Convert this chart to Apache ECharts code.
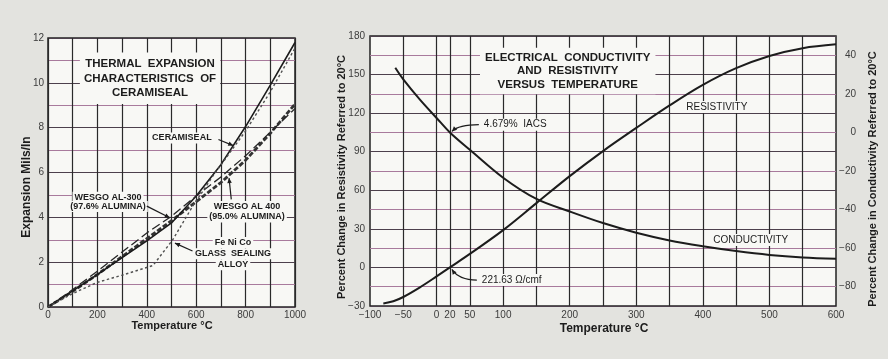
<!DOCTYPE html>
<html>
<head>
<meta charset="utf-8">
<script src="https://cdn.jsdelivr.net/npm/echarts@6/dist/echarts.min.js"></script>
<style>
  html, body { margin: 0; padding: 0; background: #e3e3df; }
  #c { width: 888px; height: 359px; }
</style>
</head>
<body>
<div id="c"></div>
<script>
// ---- Thermal expansion (mils per inch) against temperature (°C) ----
const expTemps   = [0, 100, 200, 300, 400, 500, 600, 700, 800, 900, 1000];
const ceramiseal = [0, 0.72, 1.45, 2.2, 2.95, 3.75, 4.95, 6.35, 8.05, 9.9, 11.8];
const al300      = [0, 0.78, 1.6, 2.45, 3.3, 4.05, 4.95, 5.8, 6.75, 7.8, 8.85];
const al400      = [0, 0.7, 1.45, 2.25, 3.05, 3.85, 4.7, 5.55, 6.55, 7.75, 9.05];
const feNiCoTemps = [0, 100, 200, 300, 425, 505, 586, 668, 800, 900, 1000];
const feNiCo      = [0, 0.6, 1.1, 1.42, 1.85, 3.0, 4.5, 5.85, 7.85, 9.6, 11.55];

// ---- Resistivity / conductivity change referred to 20 °C ----
const resTemps    = [-80, -65, -50, -25, 0, 20, 50, 100, 150, 200, 250, 300, 350, 400, 450, 500, 550, 600];
const resistivity = [-28, -26.3, -23, -15.5, -7, 0, 10.5, 29, 50, 71, 90.5, 108.5, 126, 142, 155, 164.5, 170.5, 173.5];
const condTemps    = [-62, -50, -25, 0, 20, 50, 100, 150, 200, 250, 300, 350, 400, 450, 500, 550, 600];
const conductivity = [33.5, 27.5, 17, 7.5, 0, -9, -23.5, -34.5, -41, -47, -52, -56, -59, -61.5, -63.5, -64.8, -65.5];

// ---- Tick labels / grid positions ----
const expXLabels = [0, 200, 400, 600, 800, 1000];
const expYLabels = [0, 2, 4, 6, 8, 10, 12];
const tempXLabels = [-100, -50, 0, 20, 50, 100, 200, 300, 400, 500, 600];
const tempGridX   = [-50, 0, 20, 50, 100, 150, 200, 250, 300, 350, 400, 450, 500, 550];
const resYLabels  = [-30, 0, 30, 60, 90, 120, 150, 180];
const condYLabels = [-80, -60, -40, -20, 0, 20, 40];

const chart = echarts.init(document.getElementById('c'));
const pairs = (xs, ys) => xs.map((x, i) => [x, ys[i]]);
const minus = v => String(v).replace('-', '\u2212');

const FONT = "'Liberation Sans', Arial, sans-serif";
const INK = '#1c1c1c';
const PAPER = '#f8f8f5';
const V_LINE = '#2a2a2a';
const H_LINES = ['#4d404c', '#a87a9c'];

const tickLabel = { color: '#3c3c3c', fontFamily: FONT, fontSize: 10 };
const hideAxis = { axisLine: { show: false }, axisTick: { show: false } };

const base = {
  backgroundColor: '#e3e3df',
  animation: false,
  grid: [
    { left: 48, top: 38, width: 247, height: 269, show: true, backgroundColor: PAPER, borderColor: '#222', borderWidth: 1.5 },
    { left: 370, top: 36, width: 466, height: 270, show: true, backgroundColor: PAPER, borderColor: '#222', borderWidth: 1.5 }
  ],
  xAxis: [
    Object.assign({ gridIndex: 0, type: 'value', min: 0, max: 1000, interval: 100,
      axisLabel: Object.assign({ margin: 3, formatter: v => expXLabels.includes(v) ? String(v) : '' }, tickLabel),
      splitLine: { lineStyle: { color: V_LINE, width: 1.2 } } }, hideAxis),
    Object.assign({ gridIndex: 1, type: 'value', min: -100, max: 600, interval: 10,
      axisLabel: Object.assign({ margin: 4, formatter: v => tempXLabels.includes(v) ? minus(v) : '' }, tickLabel),
      splitLine: { show: false } }, hideAxis)
  ],
  yAxis: [
    Object.assign({ gridIndex: 0, type: 'value', min: 0, max: 12, interval: 1,
      axisLabel: Object.assign({ margin: 4, formatter: v => expYLabels.includes(v) ? String(v) : '' }, tickLabel),
      splitLine: { lineStyle: { color: H_LINES, width: 1.2 } } }, hideAxis),
    Object.assign({ gridIndex: 1, type: 'value', min: -30, max: 180, interval: 15,
      axisLabel: Object.assign({ margin: 5, formatter: v => resYLabels.includes(v) ? minus(v) : '' }, tickLabel),
      splitLine: { lineStyle: { color: H_LINES, width: 1.2 } } }, hideAxis),
    Object.assign({ gridIndex: 1, type: 'value', position: 'right', min: -90, max: 50, interval: 10,
      axisLabel: Object.assign({ margin: 20, align: 'right', formatter: v => condYLabels.includes(v) ? minus(v) : '' }, tickLabel),
      splitLine: { show: false } }, hideAxis)
  ],
  series: [
    // vertical rulings of the temperature scale
    { type: 'line', xAxisIndex: 1, yAxisIndex: 1, data: [], silent: true, z: 1,
      markLine: { silent: true, z: 1, symbol: ['none', 'none'], animation: false,
        label: { show: false }, emphasis: { disabled: true },
        lineStyle: { color: V_LINE, width: 1.2, type: 'solid' },
        data: tempGridX.map(v => ({ xAxis: v })) } },

    { name: 'CERAMISEAL', type: 'line', xAxisIndex: 0, yAxisIndex: 0, data: pairs(expTemps, ceramiseal),
      showSymbol: false, z: 25, lineStyle: { color: INK, width: 1.6 } },
    { name: 'WESGO AL-300', type: 'line', xAxisIndex: 0, yAxisIndex: 0, data: pairs(expTemps, al300),
      showSymbol: false, z: 25, lineStyle: { color: '#262626', width: 1.3, type: [9, 4] } },
    { name: 'WESGO AL-400', type: 'line', xAxisIndex: 0, yAxisIndex: 0, data: pairs(expTemps, al400),
      showSymbol: false, z: 24, lineStyle: { color: '#333', width: 2.8, type: [5, 2] } },
    { name: 'Fe Ni Co', type: 'line', xAxisIndex: 0, yAxisIndex: 0, data: pairs(feNiCoTemps, feNiCo),
      showSymbol: false, z: 25, lineStyle: { color: '#505050', width: 1.4, type: [2.5, 2.5] } },

    { name: 'RESISTIVITY', type: 'line', xAxisIndex: 1, yAxisIndex: 1, data: pairs(resTemps, resistivity),
      smooth: 0.35, showSymbol: false, z: 25, lineStyle: { color: INK, width: 2 } },
    { name: 'CONDUCTIVITY', type: 'line', xAxisIndex: 1, yAxisIndex: 2, data: pairs(condTemps, conductivity),
      smooth: 0.35, showSymbol: false, z: 25, lineStyle: { color: INK, width: 2 } }
  ]
};

chart.setOption(base);

// ---- annotations, anchored in data space ----
const toPx = (xAxisIndex, yAxisIndex, xy) => chart.convertToPixel({ xAxisIndex, yAxisIndex }, xy);
const L = xy => toPx(0, 0, xy);     // expansion chart
const R = xy => toPx(1, 1, xy);     // resistivity scale
const C = xy => toPx(1, 2, xy);     // conductivity scale

function text(p, str, o) {
  o = o || {};
  return {
    type: 'text', x: p[0], y: p[1], z: o.z || 15, rotation: o.rotation || 0,
    style: {
      text: str, fill: o.color || INK,
      font: (o.weight || 'bold') + ' ' + (o.size || 9) + 'px ' + (o.family || FONT),
      align: o.align || 'center', verticalAlign: 'middle',
      lineHeight: o.lineHeight, backgroundColor: o.bg, padding: o.pad
    }
  };
}

function arrow(from, to, ctrl) {
  const els = [];
  const stroke = { stroke: INK, lineWidth: 1.2, fill: null };
  if (ctrl) {
    els.push({ type: 'bezierCurve', z: 20, shape: { x1: from[0], y1: from[1], x2: to[0], y2: to[1], cpx1: ctrl[0], cpy1: ctrl[1] }, style: stroke });
  } else {
    els.push({ type: 'line', z: 20, shape: { x1: from[0], y1: from[1], x2: to[0], y2: to[1] }, style: stroke });
  }
  const b = ctrl || from;
  const dx = to[0] - b[0], dy = to[1] - b[1], d = Math.hypot(dx, dy) || 1;
  const ux = dx / d, uy = dy / d, len = 5, w = 2.3;
  const bx = to[0] - ux * len, by = to[1] - uy * len;
  els.push({ type: 'polygon', z: 20, shape: { points: [[to[0], to[1]], [bx - uy * w, by + ux * w], [bx + uy * w, by - ux * w]] }, style: { fill: INK } });
  return els;
}

const g = [];

// expansion chart
g.push(text(L([413, 10.2]), 'THERMAL  EXPANSION\nCHARACTERISTICS  OF\nCERAMISEAL',
  { size: 11.5, lineHeight: 14.5, bg: PAPER, pad: [4, 4] }));
g.push(text(L([542, 7.54]), 'CERAMISEAL', { bg: PAPER, pad: [1, 2] }));
g.push(...arrow(L([690, 7.47]), L([750, 7.2])));
g.push(text(L([243, 4.9]), 'WESGO AL-300', { bg: PAPER, pad: [1, 2] }));
g.push(text(L([243, 4.48]), '(97.6% ALUMINA)', { bg: PAPER, pad: [1, 2] }));
g.push(...arrow(L([400, 4.5]), L([493, 3.98])));
g.push(text(L([806, 4.48]), 'WESGO AL 400', { bg: PAPER, pad: [1, 2] }));
g.push(text(L([806, 4.02]), '(95.0% ALUMINA)', { bg: PAPER, pad: [1, 2] }));
g.push(...arrow(L([742, 4.8]), L([733, 5.75])));
g.push(text(L([749, 2.88]), 'Fe Ni Co', { bg: PAPER, pad: [1, 2] }));
g.push(text(L([749, 2.38]), 'GLASS  SEALING', { bg: PAPER, pad: [1, 2] }));
g.push(text(L([749, 1.88]), 'ALLOY', { bg: PAPER, pad: [1, 2] }));
g.push(...arrow(L([585, 2.5]), L([514, 2.85])));

g.push(text([27, 187], 'Expansion Mils/In', { size: 12, rotation: Math.PI / 2 }));
g.push(text([172, 326], 'Temperature °C', { size: 11 }));

// resistivity / conductivity chart
g.push(text(R([197, 152.8]), 'ELECTRICAL  CONDUCTIVITY\nAND  RESISTIVITY\nVERSUS  TEMPERATURE',
  { size: 11.5, lineHeight: 13.5, bg: PAPER, pad: [3, 5] }));

const iacsTip = C([20, 0]);
const iacsTxt = R([68, 111]);
g.push(text(iacsTxt, '4.679%  IACS', { weight: 'normal', size: 10, align: 'left', bg: PAPER, pad: [1, 2] }));
g.push(...arrow([iacsTxt[0] - 3, iacsTxt[1]], [iacsTip[0] + 2, iacsTip[1] - 1], [iacsTip[0] + 9, iacsTxt[1]]));

const ohmTip = R([20, 0]);
const ohmTxt = R([65, -9.8]);
g.push(text(ohmTxt, '221.63 Ω/cmf', { weight: 'normal', size: 10, align: 'left', bg: PAPER, pad: [1, 2] }));
g.push(...arrow([ohmTxt[0] - 3, ohmTxt[1]], [ohmTip[0] + 2, ohmTip[1] + 2], [ohmTip[0] + 9, ohmTxt[1]]));

g.push(text(R([421, 124.8]), 'RESISTIVITY', { weight: 'normal', size: 10, bg: PAPER, pad: [1, 2] }));
g.push(text(R([472, 21.3]), 'CONDUCTIVITY', { weight: 'normal', size: 10, bg: PAPER, pad: [1, 2] }));

g.push(text([342, 177], 'Percent Change in Resistivity Referred to 20°C', { size: 11, rotation: Math.PI / 2 }));
g.push(text([873, 179], 'Percent Change in Conductivity Referred to 20°C', { size: 11, rotation: Math.PI / 2 }));
g.push(text([604, 329], 'Temperature °C', { size: 12 }));

chart.setOption({ graphic: { elements: g } });
</script>
</body>
</html>
